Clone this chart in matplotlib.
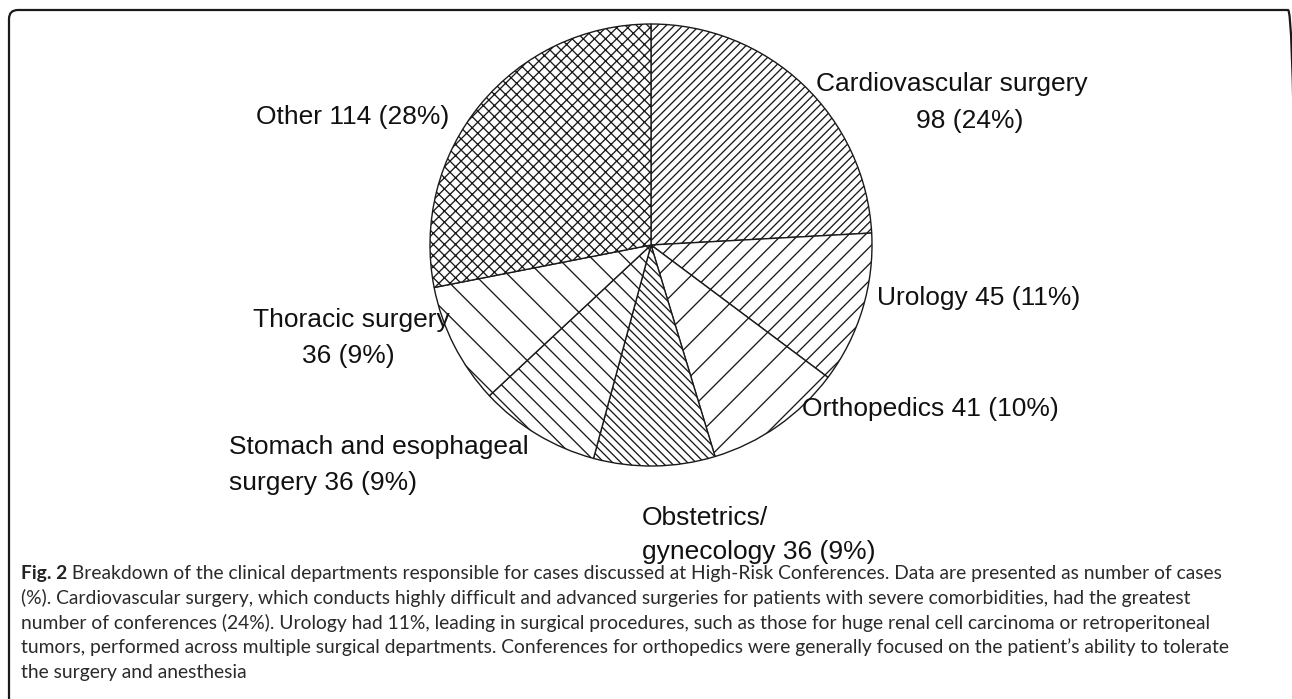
import matplotlib
matplotlib.use("Agg")
import matplotlib.pyplot as plt
from matplotlib.patches import FancyBboxPatch

# ---- data ----
departments = ["Cardiovascular surgery", "Urology", "Orthopedics",
               "Obstetrics/gynecology", "Stomach and esophageal surgery",
               "Thoracic surgery", "Other"]
cases = [98, 45, 41, 36, 36, 36, 114]
percents = [24, 11, 10, 9, 9, 9, 28]
hatches = ["////", "//", "/", "\\\\\\\\", "\\\\", "\\", "xxx"]

label_lines = [
    ["Cardiovascular surgery", "98 (24%)"],
    ["Urology 45 (11%)"],
    ["Orthopedics 41 (10%)"],
    ["Obstetrics/", "gynecology 36 (9%)"],
    ["Stomach and esophageal", "surgery 36 (9%)"],
    ["Thoracic surgery", "36 (9%)"],
    ["Other 114 (28%)"],
]
caption_bold = "Fig. 2"
caption_lines = [
    " Breakdown of the clinical departments responsible for cases discussed at High-Risk Conferences. Data are presented as number of cases",
    "(%). Cardiovascular surgery, which conducts highly difficult and advanced surgeries for patients with severe comorbidities, had the greatest",
    "number of conferences (24%). Urology had 11%, leading in surgical procedures, such as those for huge renal cell carcinoma or retroperitoneal",
    "tumors, performed across multiple surgical departments. Conferences for orthopedics were generally focused on the patient\u2019s ability to tolerate",
    "the surgery and anesthesia",
]

# ---- layout (pixel coordinates, origin top-left) ----
W, H = 1292, 699
label_pos = [
    [(816, 84), (916, 121)],
    [(877, 298)],
    [(802, 409)],
    [(642, 518), (642, 552)],
    [(229, 447), (229, 483)],
    [(253, 320), (302, 356)],
    [(256, 117)],
]

plt.rcParams["hatch.linewidth"] = 0.95
fig = plt.figure(figsize=(W / 100, H / 100), dpi=100)
ax = fig.add_axes([0, 0, 1, 1])

cx, cy, r = 651, 245, 221
wedges, _ = ax.pie(cases, startangle=90, counterclock=False, radius=r,
                   center=(cx, H - cy),
                   wedgeprops=dict(facecolor="white", edgecolor="#1a1a1a",
                                   linewidth=1.0))
for w, h in zip(wedges, hatches):
    w.set_hatch(h)

ax.set_xlim(0, W)
ax.set_ylim(0, H)
ax.set_aspect("auto")
ax.axis("off")

lab_font = ["Liberation Sans", "DejaVu Sans"]
for lines, poss in zip(label_lines, label_pos):
    for t, (x, y) in zip(lines, poss):
        ax.text(x, H - y, t, fontsize=19, family=lab_font,
                ha="left", va="center", color="#111111")

# frame with rounded corners (right and bottom sides fall outside the image)
frame = FancyBboxPatch((9, -40), 1297 - 9, H - 10 + 40,
                       boxstyle="round,pad=0,rounding_size=9",
                       facecolor="none", edgecolor="#1a1a1a", linewidth=1.6,
                       clip_on=False)
ax.add_patch(frame)

# caption
cap_font = ["Lato", "DejaVu Sans"]
cap_size = 13.9
cap_x = 21
cap_y0 = 573
cap_dy = 24.8
fig.canvas.draw()
rend = fig.canvas.get_renderer()
tb = ax.text(cap_x, H - cap_y0, caption_bold, fontsize=cap_size,
             family=cap_font, weight="bold", ha="left", va="center",
             color="#222222")
bb = tb.get_window_extent(rend)
inv = ax.transData.inverted()
bx = inv.transform((bb.x1, bb.y0))[0]
for i, line in enumerate(caption_lines):
    x = bx if i == 0 else cap_x
    ax.text(x, H - (cap_y0 + i * cap_dy), line, fontsize=cap_size,
            family=cap_font, ha="left", va="center", color="#2a2a2a")

fig.savefig("out.png", dpi=100, facecolor="white")
